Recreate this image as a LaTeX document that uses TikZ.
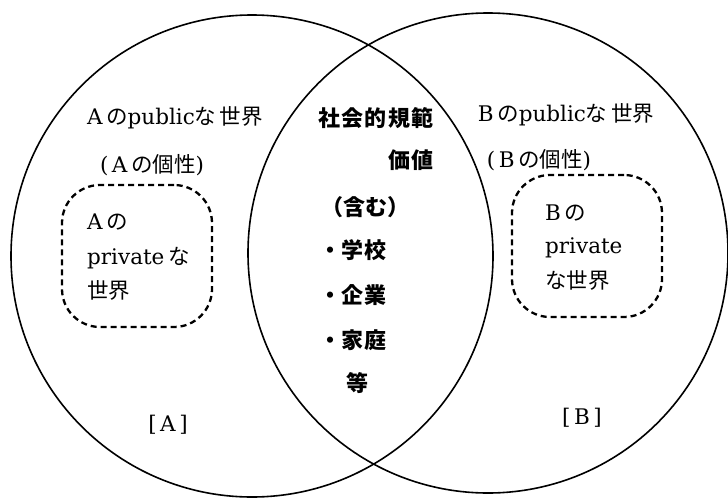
\documentclass[tikz,border=0pt]{standalone}
\usepackage{fontspec}
\setmainfont{DejaVu Serif}
\newfontfamily\jpf{Noto Sans CJK JP}
\newcommand{\J}[1]{{\jpf #1}}
\tikzset{
  venn/.style={circle, draw, line width=1.6pt, inner sep=0pt},
  privbox/.style={draw, line width=2.3pt, dash pattern=on 6pt off 4pt, rounded corners=38pt, minimum width=150pt, minimum height=142pt, inner sep=0pt},
  txt/.style={inner sep=0pt, font=\fontsize{21.5}{24}\selectfont},
  ctxt/.style={inner sep=0pt, font=\fontsize{22}{24}\selectfont\jpf\bfseries},
}
\begin{document}
\begin{tikzpicture}[x=1pt,y=-1pt]
\useasboundingbox (0,0) rectangle (728,498);
\node[venn, minimum size=482pt] (ca) at (252,256) {};
\node[venn, minimum size=480pt] (cb) at (488,253) {};
\node[privbox] (pa) at (137,256) {};
\node[privbox] (pb) at (587,246) {};
% A side
\node[txt] (pubA) at (175,118) {A\,\J{の}public\J{な}\,\J{世界}};
\node[txt] (indA) at (152,165) {(\,A\,\J{の個性})};
\node[txt, anchor=west] (pa1) at (87,222) {A\,\J{の}};
\node[txt, anchor=west] (pa2) at (87,258) {private\,\J{な}};
\node[txt, anchor=west] (pa3) at (87,290) {\J{世界}};
\node[txt] (labA) at (168,425) {[\,A\,]};
% B side
\node[txt] (pubB) at (566,115) {B\,\J{の}public\J{な}\,\J{世界}};
\node[txt] (indB) at (539,160) {(\,B\,\J{の個性})};
\node[txt, anchor=west] (pb1) at (545,213) {B\,\J{の}};
\node[txt, anchor=west] (pb2) at (545,248) {private};
\node[txt, anchor=west] (pb3) at (545,280) {\J{な世界}};
\node[txt] (labB) at (582,418) {[\,B\,]};
% centre
\node[ctxt] (n1) at (376,118) {社\kern1.5pt 会\kern1.5pt 的\kern1.5pt 規\kern1.5pt 範};
\node[ctxt, anchor=east] (n2) at (434,160) {価\kern1.5pt 値};
\node[ctxt] (n3) at (365,207) {（含む）};
\node[ctxt, anchor=west] (n4) at (319,250) {・学\kern1.5pt 校};
\node[ctxt, anchor=west] (n5) at (319,295) {・企\kern1.5pt 業};
\node[ctxt, anchor=west] (n6) at (319,340) {・家\kern1.5pt 庭};
\node[ctxt] (n7) at (357,383) {等};
\end{tikzpicture}
\end{document}
